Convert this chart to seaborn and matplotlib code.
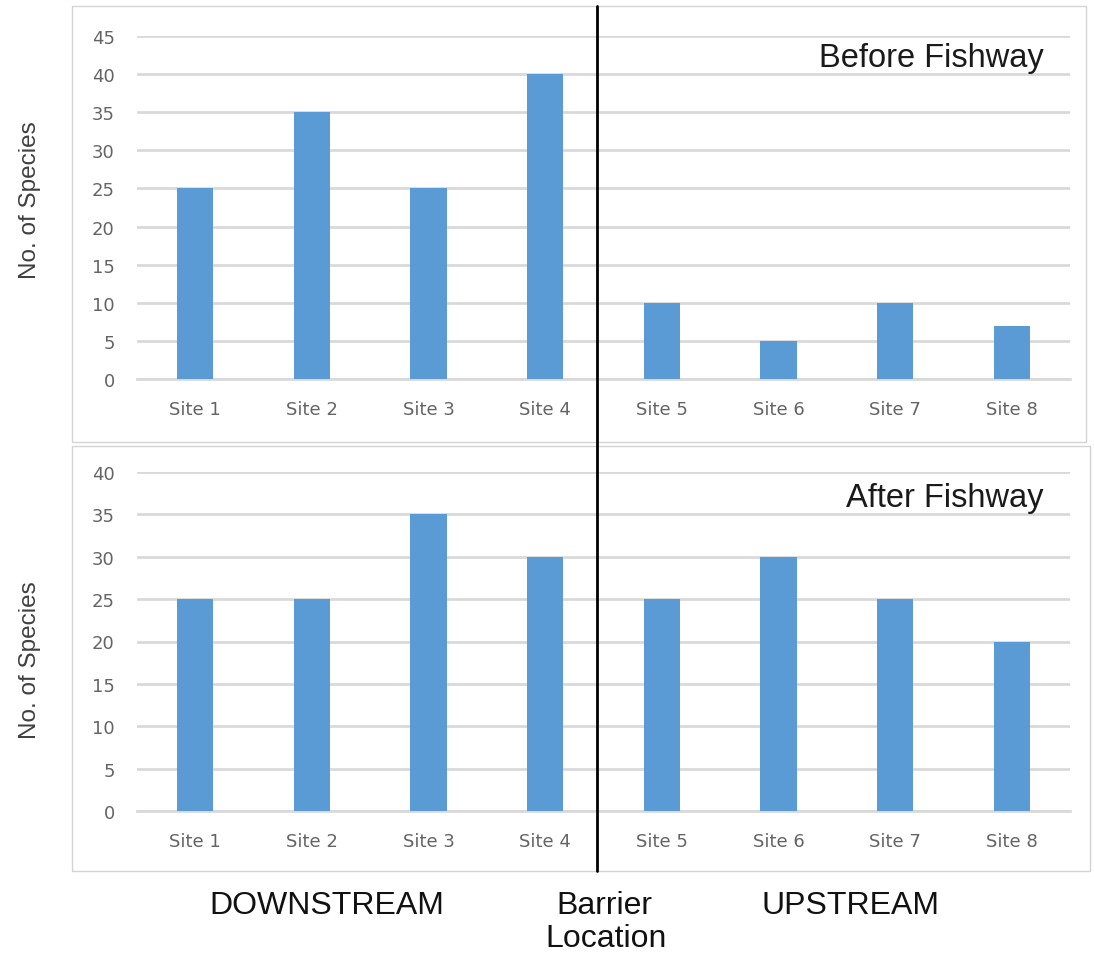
import matplotlib
matplotlib.use("Agg")
import matplotlib.pyplot as plt
from matplotlib.patches import Rectangle
from matplotlib.lines import Line2D
import seaborn as sns
import pandas as pd

# Species counts per survey site
sites = ["Site 1", "Site 2", "Site 3", "Site 4", "Site 5", "Site 6", "Site 7", "Site 8"]
before_fishway = [25, 35, 25, 40, 10, 5, 10, 7]
after_fishway = [25, 25, 35, 30, 25, 30, 25, 20]
before_ticks = [0, 5, 10, 15, 20, 25, 30, 35, 40, 45]
after_ticks = [0, 5, 10, 15, 20, 25, 30, 35, 40]

sns.set_theme(style="white")
plt.rcParams["font.family"] = ["Liberation Sans", "DejaVu Sans"]

W, H = 1094, 954
fig = plt.figure(figsize=(W / 100, H / 100), dpi=100)

BAR = "#5B9BD5"
GRID = "#D9D9D9"
TICK = "#646464"


def px_axes(x0, y_top, x1, y_bot):
    return fig.add_axes([x0 / W, 1 - y_bot / H, (x1 - x0) / W, (y_bot - y_top) / H])


def fy(y):
    return 1 - y / H


# Panel frames
for (x0, y0, x1, y1) in [(72, 7, 1086, 443), (72, 447, 1090, 872)]:
    fig.patches.append(Rectangle((x0 / W, fy(y1)), (x1 - x0) / W, (y1 - y0) / H,
                                 transform=fig.transFigure, fill=False,
                                 edgecolor="#D4D4D4", linewidth=1.0, zorder=0))


def draw_panel(ax, values, ticks):
    df = pd.DataFrame({"site": sites, "species": values})
    sns.barplot(data=df, x="site", y="species", color=BAR, width=0.31,
                saturation=1, linewidth=0, ax=ax, zorder=3)
    ax.set_xlim(-0.5, len(sites) - 0.5)
    ax.set_ylim(0, ticks[-1])
    ax.set_yticks(ticks)
    ax.set_yticklabels([str(t) for t in ticks])
    ax.yaxis.grid(True, color=GRID, linewidth=2.0, zorder=0)
    ax.set_axisbelow(True)
    for s in ["left", "right", "top"]:
        ax.spines[s].set_visible(False)
    ax.spines["bottom"].set_color(GRID)
    ax.spines["bottom"].set_linewidth(2.0)
    ax.set_xlabel("")
    ax.set_ylabel("")
    ax.tick_params(axis="x", length=0, pad=15, labelsize=13, labelcolor=TICK)
    ax.tick_params(axis="y", length=0, pad=16, labelsize=13, labelcolor=TICK)
    for lab in ax.get_xticklabels() + ax.get_yticklabels():
        lab.set_fontfamily(["DejaVu Sans"])
    ax.patch.set_alpha(0)


ax_top = px_axes(137, 37, 1070, 380)
draw_panel(ax_top, before_fishway, before_ticks)
ax_bot = px_axes(137, 473, 1070, 812)
draw_panel(ax_bot, after_fishway, after_ticks)

# Panel captions
fig.text(1044 / W, fy(58), "Before Fishway", ha="right", va="center",
         fontsize=23.5, color="#1a1a1a")
fig.text(1044 / W, fy(498), "After Fishway", ha="right", va="center",
         fontsize=23.5, color="#1a1a1a")

# Y axis titles
for yc in (200, 660):
    fig.text(30 / W, fy(yc), "No. of Species", rotation=90, ha="center",
             va="center", fontsize=17.5, color="#404040")

# Barrier line
fig.add_artist(Line2D([597 / W, 597 / W], [fy(7), fy(872)],
                      transform=fig.transFigure, color="black", linewidth=2.0))

# Bottom annotations
fig.text(327 / W, fy(906), "DOWNSTREAM", ha="center", va="center",
         fontsize=23, color="#111111")
fig.text(850 / W, fy(906), "UPSTREAM", ha="center", va="center",
         fontsize=23, color="#111111")
fig.text(604 / W, fy(906), "Barrier", ha="center", va="center",
         fontsize=23, color="#111111")
fig.text(606 / W, fy(939), "Location", ha="center", va="center",
         fontsize=23, color="#111111")

fig.savefig("out.png", dpi=100)
